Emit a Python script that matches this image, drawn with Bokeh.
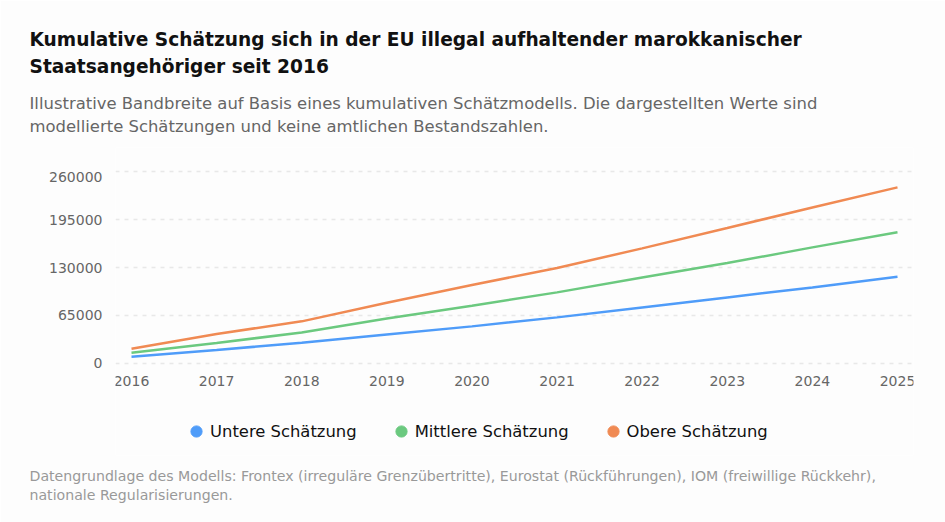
from bokeh.embed import file_html
from bokeh.resources import INLINE
from bokeh.plotting import figure
from bokeh.models import Range1d, FixedTicker, NumeralTickFormatter, Title, Legend, LegendItem

years = [2016, 2017, 2018, 2019, 2020, 2021, 2022, 2023, 2024, 2025]
untere = [9100, 18200, 28000, 39300, 50200, 62400, 75900, 89500, 103000, 117600]
mittlere = [14500, 27600, 42000, 61000, 78200, 96300, 116600, 136100, 157300, 177700]
obere = [19900, 39900, 57000, 82300, 106300, 129400, 156000, 183600, 211500, 238700]
y_ticks = [0, 65000, 130000, 195000, 260000]
y_label_anchors = [0, 65000, 130000, 195000, 253300]
series_names = ["Untere Schätzung", "Mittlere Schätzung", "Obere Schätzung"]
title_lines = ["Kumulative Schätzung sich in der EU illegal aufhaltender marokkanischer",
               "Staatsangehöriger seit 2016"]
subtitle_lines = ["Illustrative Bandbreite auf Basis eines kumulativen Schätzmodells. Die dargestellten Werte sind",
                  "modellierte Schätzungen und keine amtlichen Bestandszahlen."]
footer_lines = ["Datengrundlage des Modells: Frontex (irreguläre Grenzübertritte), Eurostat (Rückführungen), IOM (freiwillige Rückkehr),",
                "nationale Regularisierungen."]

FONT = "DejaVu Sans"
BG = "#fdfdfd"
colors = ["#4f9cf9", "#6bc97f", "#f08a53"]

# The frame runs down to the footer, so the legend can sit inside it, under the x axis.
p = figure(width=945, height=522, output_backend="svg", toolbar_location=None,
           x_range=Range1d(2015.812, 2025.188), y_range=Range1d(-124900, 292760),
           min_border_left=115, min_border_right=32, min_border_top=147, min_border_bottom=67)
p.background_fill_color = BG
p.border_fill_color = BG
p.outline_line_color = None

p.xgrid.visible = False
p.ygrid.ticker = FixedTicker(ticks=y_ticks)
p.ygrid.grid_line_color = "#e8e8e8"
p.ygrid.grid_line_dash = [4, 5]
p.ygrid.grid_line_width = 1.5

p.xaxis.ticker = FixedTicker(ticks=years)
p.xaxis.formatter = NumeralTickFormatter(format="0")
p.xaxis.fixed_location = 0
p.yaxis.ticker = FixedTicker(ticks=y_label_anchors)
p.yaxis.major_label_overrides = {a: str(t) for a, t in zip(y_label_anchors, y_ticks)}
for ax in (p.xaxis, p.yaxis):
    ax.axis_line_color = None
    ax.major_tick_line_color = None
    ax.minor_tick_line_color = None
    ax.major_label_text_font = FONT
    ax.major_label_text_font_size = "14px"
    ax.major_label_text_color = "#666666"
p.xaxis.major_label_standoff = 7
p.yaxis.major_label_standoff = 7

items = []
for name, vals, col in zip(series_names, [untere, mittlere, obere], colors):
    p.line(years, vals, line_color=col, line_width=2.5)
    dot = p.scatter(years, vals, size=0, fill_color=col, line_color=col)
    items.append(LegendItem(label=name, renderers=[dot]))

legend = Legend(items=items, orientation="horizontal", location=(67, 9),
                glyph_width=28, glyph_height=30, label_standoff=0, spacing=30,
                padding=0, margin=0, border_line_color=None,
                background_fill_alpha=0,
                label_text_font=FONT, label_text_font_size="16.4px", label_text_color="#111111")
p.add_layout(legend, "center")


def text(lines, size, color, panel, standoff, line_height, style="normal"):
    p.add_layout(Title(text="\n".join(lines), text_font=FONT, text_font_size=size, text_color=color,
                       text_font_style=style, text_line_height=line_height,
                       align="left", offset=-86, standoff=standoff), panel)


text(subtitle_lines, "16.46px", "#666666", "above", 23, 1.19)
text(title_lines, "18.6px", "#111111", "above", 6, 1.31, "bold")
text(footer_lines, "14.13px", "#999999", "below", 21, 1.16)

open("out.html", "w").write(file_html(p, INLINE))
